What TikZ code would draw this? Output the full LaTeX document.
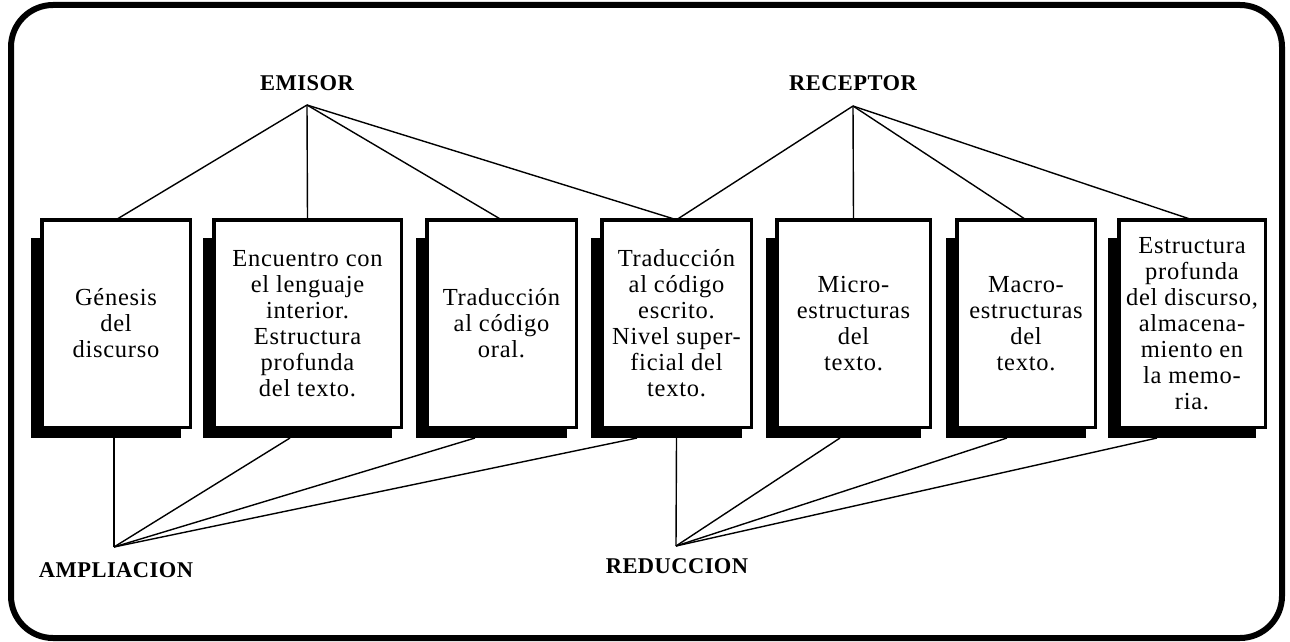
\documentclass[tikz,border=0pt]{standalone}
\usepackage{fontspec}
\setmainfont{Liberation Serif}
\newfontfamily\boxfamily[LetterSpace=3]{Liberation Serif}
\newfontfamily\labfamily[LetterSpace=2]{Liberation Serif}
\usetikzlibrary{calc,backgrounds}
\tikzset{
  stagebox/.style={draw, line width=3.5pt, fill=white, inner sep=0pt, outer sep=0pt,
    minimum height=207.5pt, align=center,
    font=\boxfamily\fontsize{24.5}{26}\selectfont},
  headlabel/.style={anchor=base, inner sep=0pt, font=\labfamily\bfseries\fontsize{22.5}{24}\selectfont},
  link/.style={line width=1.4pt},
  frame/.style={line width=6pt, rounded corners=42pt}
}
\begin{document}
\begin{tikzpicture}[x=1pt, y=-1pt]
\useasboundingbox (0,0) rectangle (1290,642);
\draw[frame] (11,5) rectangle (1282,638);

% boxes
\node[stagebox, minimum width=148.5pt] (b1) at (116,323.5) {Génesis\\del\\discurso};
\node[stagebox, minimum width=187.5pt] (b2) at (307.5,323.5) {Encuentro con\\el lenguaje\\interior.\\Estructura\\profunda\\del texto.};
\node[stagebox, minimum width=149.5pt] (b3) at (501.5,323.5) {Traducción\\al código\\oral.};
\node[stagebox, minimum width=149.5pt] (b4) at (676.5,323.5) {Traducción\\al código\\escrito.\\Nivel super-\\ficial del\\texto.};
\node[stagebox, minimum width=153.5pt] (b5) at (853.5,323.5) {Micro-\\estructuras\\del\\texto.};
\node[stagebox, minimum width=138.5pt] (b6) at (1026,323.5) {Macro-\\estructuras\\del\\texto.};
\node[stagebox, minimum width=146.5pt] (b7) at (1192,323.5) {Estructura\\profunda\\del discurso,\\almacena-\\miento en\\la memo-\\ria.};

% shadows
\begin{scope}[on background layer]
\foreach \b in {b1,b2,b3,b4,b5,b6,b7}
  \fill ($(\b.north west)+(-10.75,18)$) rectangle ($(\b.south east)+(-9.25,10.75)$);
\end{scope}

% labels
\node[headlabel] (emisor) at (307,90) {EMISOR};
\node[headlabel] (receptor) at (853,90) {RECEPTOR};
\node[headlabel] (ampl) at (116,577) {AMPLIACION};
\node[headlabel] (redu) at (677,573) {REDUCCION};

\coordinate (emA) at (307,105);
\coordinate (reA) at (853,106);
\coordinate (amA) at (114,547);
\coordinate (rdA) at (676,546);

% top connectors
\foreach \b in {b1,b2,b3,b4}
  \draw[link] (emA) -- (\b.north);
\foreach \b in {b4,b5,b6,b7}
  \draw[link] (reA) -- (\b.north);

% bottom connectors
\draw[link] (amA) -- ($(b1.south)+(-2,10.75)$);
\draw[link] (amA) -- ($(b2.south)+(-17.5,10.75)$);
\draw[link] (amA) -- ($(b3.south)+(-26.5,10.75)$);
\draw[link] (amA) -- ($(b4.south)+(-39.5,10.75)$);
\draw[link] (rdA) -- ($(b4.south)+(0,10.75)$);
\draw[link] (rdA) -- ($(b5.south)+(-13.5,10.75)$);
\draw[link] (rdA) -- ($(b6.south)+(-19,10.75)$);
\draw[link] (rdA) -- ($(b7.south)+(-35,10.75)$);
\end{tikzpicture}
\end{document}
